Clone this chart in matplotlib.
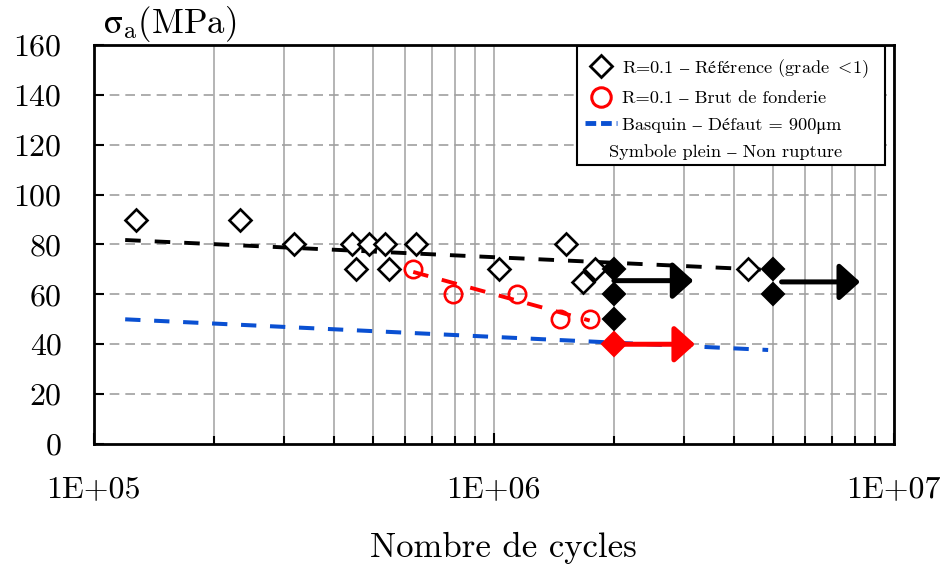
import matplotlib
matplotlib.use('Agg')
import matplotlib.pyplot as plt
from matplotlib.lines import Line2D
from matplotlib.patches import Rectangle
from matplotlib.ticker import LogLocator, NullFormatter

plt.rcParams['font.family'] = ['cmr10', 'STIXGeneral']
plt.rcParams['mathtext.fontset'] = 'cm'
plt.rcParams['axes.unicode_minus'] = False

# Reference (grade < 1), open symbols = rupture
ref_n = [1.28e5, 2.32e5, 3.17e5, 4.42e5, 4.87e5, 5.34e5, 6.4e5, 4.53e5, 5.49e5,
         1.03e6, 1.52e6, 1.67e6, 1.79e6, 4.33e6]
ref_s = [90, 90, 80, 80, 80, 80, 80, 70, 70, 70, 80, 65, 70, 70]
# Reference, non rupture (filled)
ref_nr_n = [2e6, 2e6, 2e6, 5e6, 5e6]
ref_nr_s = [70, 60, 50, 70, 60]
# Brut de fonderie
brut_n = [6.3e5, 7.93e5, 1.146e6, 1.47e6, 1.74e6]
brut_s = [70, 60, 60, 50, 50]
brut_nr_n = [2e6]
brut_nr_s = [40]
# trend lines
fit_ref_n = [1.2e5, 5e6]
fit_ref_s = [81.8, 69.7]
fit_brut_n = [6.3e5, 1.74e6]
fit_brut_s = [69.0, 49.5]
basquin_n = [1.2e5, 4.86e6]
basquin_s = [50.0, 37.7]
# run-out arrows
arrow_start = [2e6, 5.25e6, 2e6]
arrow_end = [3.16e6, 8.25e6, 3.19e6]
arrow_s = [65.5, 65, 40]
arrow_col = ['black', 'black', 'red']

xtick_vals = [1e5, 1e6, 1e7]
xtick_labels = ['1E+05', '1E+06', '1E+07']
ytick_vals = [0, 20, 40, 60, 80, 100, 120, 140, 160]

blue = '#0a50d2'
grid_col = '#a0a0a0'

fig = plt.figure(figsize=(9.46, 5.74), dpi=100)
ax = fig.add_axes([93.5/946, 1-444/574, 800/946, 399/574])
ax.set_xscale('log')
ax.set_xlim(1e5, 1e7)
ax.set_ylim(0, 160)

# grid
ax.xaxis.set_minor_locator(LogLocator(base=10, subs=range(2, 10)))
ax.xaxis.set_minor_formatter(NullFormatter())
ax.grid(True, which='both', axis='x', color=grid_col, lw=1.1, ls='-')
ax.set_yticks(ytick_vals)
for v in ytick_vals[1:-1]:
    ax.axhline(v, color=grid_col, lw=1.2, dashes=(5.8, 3.6), zorder=0.5)
ax.set_axisbelow(True)

ax.set_xticks(xtick_vals)
ax.set_xticklabels(xtick_labels)
ax.tick_params(axis='both', which='major', direction='in', length=7, width=1.5,
               labelsize=23, pad=23)
ax.tick_params(axis='x', which='minor', direction='in', length=6, width=1.5)
ax.tick_params(axis='x', which='major', length=8)
for sp in ax.spines.values():
    sp.set_linewidth(2)
    sp.set_color('black')

# trend lines
ax.plot(fit_ref_n, fit_ref_s, color='black', lw=2.8, dashes=(4.0, 3.6), zorder=3)
ax.plot(basquin_n, basquin_s, color=blue, lw=2.9, dashes=(3.8, 3.4), zorder=3)
ax.plot(fit_brut_n, fit_brut_s, color='red', lw=2.8, dashes=(4.0, 3.6), zorder=3)

# arrows
for x0, x1, s, c in zip(arrow_start, arrow_end, arrow_s, arrow_col):
    ax.annotate('', xy=(x1, s), xytext=(x0, s),
                arrowprops=dict(arrowstyle='-|>,head_length=0.5,head_width=0.45',
                                lw=3.6, color=c, mutation_scale=25,
                                shrinkA=0, shrinkB=0), zorder=4)

# points
ax.plot(ref_n, ref_s, ls='none', marker='D', ms=11.5, mfc='white', mec='black',
        mew=1.9, zorder=5)
ax.plot(ref_nr_n, ref_nr_s, ls='none', marker='D', ms=11.5, mfc='black', mec='black',
        mew=1.5, zorder=5)
ax.plot(brut_n, brut_s, ls='none', marker='o', ms=12.5, mfc='none', mec='red',
        mew=1.9, zorder=5)
ax.plot(brut_nr_n, brut_nr_s, ls='none', marker='D', ms=12.5, mfc='red', mec='red',
        mew=1.5, zorder=5)

# legend frame (Excel style, wider on the right)
ax.add_patch(Rectangle(((577-93.5)/800, (444-165)/399), 308/800, 119/399,
                       transform=ax.transAxes, fc='white', ec='black', lw=1.5,
                       zorder=6))

handles = [
    Line2D([], [], ls='none', marker='D', ms=11, mfc='white', mec='black', mew=2),
    Line2D([], [], ls='none', marker='o', ms=14, mfc='white', mec='red', mew=2.2),
    Line2D([], [], color=blue, lw=3.5, dashes=(2.2, 1.0)),
    Line2D([], [], ls='none'),
]
labels = [r'R=0.1 $\mathrm{–}$ R$\mathrm{é}$f$\mathrm{é}$rence (grade $<\!$1)',
          'R=0.1 – Brut de fonderie',
          'Basquin – Défaut = 900μm',
          'Symbole plein – Non rupture']
leg = ax.legend(handles, labels, loc='upper left',
                bbox_to_anchor=((585-93.5)/800, (444-57)/399),
                borderaxespad=0, borderpad=0, fontsize=13.2, frameon=False,
                handlelength=1.75, handletextpad=0.25, labelspacing=0.58)
leg.set_zorder(7)
# last row has no symbol: shift its text to the left
try:
    row = leg._legend_handle_box.get_children()[0].get_children()[3]
    row.get_children()[0].width = 14
except Exception:
    pass

fig.text(103/946, 1-33/574, r'$\mathrm{σ}_\mathrm{a}$(MPa)', fontsize=25, va='baseline')
fig.text(503/946, 1-557/574, 'Nombre de cycles', fontsize=25, ha='center', va='baseline')

fig.savefig('out.png', dpi=100)
